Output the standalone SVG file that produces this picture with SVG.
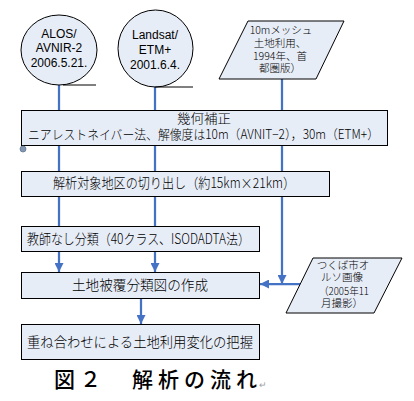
<svg xmlns="http://www.w3.org/2000/svg" width="414" height="401" viewBox="0 0 414 401">
<defs>
<marker id="ah" viewBox="0 0 10 10" refX="10" refY="5" markerWidth="4" markerHeight="4" orient="auto" markerUnits="strokeWidth">
<path d="M0,0 L10,5 L0,10 z" fill="#4472C4"/>
</marker>
<style>
.shape{fill:#E7EDF7;stroke:#000;stroke-width:1}
.con{stroke:#4472C4;stroke-width:2.25;fill:none}
.jp{font-family:"Noto Sans CJK JP","Liberation Sans",sans-serif;fill:#000;font-weight:300}
.en{font-family:"Liberation Sans","Noto Sans CJK JP",sans-serif;fill:#000;font-size:12px;text-anchor:middle}
.s10{font-size:10.5px;text-anchor:middle}
.s14{font-size:14px}
.s13{font-size:13px}
.cap{font-family:"Noto Sans CJK JP","Liberation Sans",sans-serif;fill:#000;font-size:21px;font-weight:500}
</style>
</defs>
<rect width="414" height="401" fill="#fff"/>
<g id="connectors">
<line class="con" x1="59" y1="85" x2="59" y2="110"/>
<line class="con" x1="155" y1="87" x2="155" y2="110"/>
<line class="con" x1="282" y1="79" x2="282" y2="110"/>
<line class="con" x1="59" y1="145" x2="59" y2="171"/>
<line class="con" x1="155" y1="145" x2="155" y2="171"/>
<line class="con" x1="282" y1="145" x2="282" y2="171"/>
<line class="con" x1="59" y1="196" x2="59" y2="226"/>
<line class="con" x1="155" y1="196" x2="155" y2="226"/>
<line class="con" x1="59" y1="252" x2="59" y2="272" marker-end="url(#ah)"/>
<line class="con" x1="155" y1="252" x2="155" y2="272" marker-end="url(#ah)"/>
<line class="con" x1="282" y1="196" x2="282" y2="284" marker-end="url(#ah)"/>
<line class="con" x1="301" y1="284" x2="260" y2="284" marker-end="url(#ah)"/>
<line class="con" x1="141" y1="299" x2="141" y2="324" marker-end="url(#ah)"/>
</g>
<g id="alos">
<ellipse class="shape" cx="59" cy="50" rx="38" ry="35"/>
<line x1="63" y1="85" x2="96" y2="85" stroke="#000" stroke-width="1"/>
<text class="en" x="59" y="38">ALOS/</text>
<text class="en" x="59" y="52">AVNIR-2</text>
<text class="en" x="59" y="67">2006.5.21.</text>
</g>
<g id="landsat">
<ellipse class="shape" cx="155.5" cy="48.5" rx="37.5" ry="38.5"/>
<line x1="155" y1="87" x2="193" y2="87" stroke="#000" stroke-width="1"/>
<text class="en" x="155" y="39">Landsat/</text>
<text class="en" x="155" y="54">ETM+</text>
<text class="en" x="155" y="69">2001.6.4.</text>
</g>
<g id="landuse">
<polygon class="shape" points="248,21 344,21 316,79 219,79"/>
<text class="jp s10" x="281" y="34">10mメッシュ</text>
<text class="jp s10" x="280" y="47">土地利用、</text>
<text class="jp s10" x="280" y="60">1994年、首</text>
<text class="jp s10" x="280" y="72">都圏版）</text>
</g>
<g id="geocorr">
<rect class="shape" x="21.5" y="110.5" width="366" height="35"/>
<text class="jp s13" x="204" y="123" text-anchor="middle" textLength="54" lengthAdjust="spacingAndGlyphs">幾何補正</text>
<text class="jp s13" x="28" y="139" textLength="351" lengthAdjust="spacingAndGlyphs">ニアレストネイバー法、解像度は10m（AVNIT−2），30m（ETM+）</text>
<circle cx="23" cy="149" r="3" fill="#8496B0" stroke="#5F7595" stroke-width="0.75"/>
</g>
<g id="clip">
<rect class="shape" x="21.5" y="171.5" width="308" height="25"/>
<text class="jp s14" x="53" y="188" textLength="242" lengthAdjust="spacingAndGlyphs">解析対象地区の切り出し（約15km×21km）</text>
</g>
<g id="classify">
<rect class="shape" x="21.5" y="226.5" width="238" height="25"/>
<text class="jp s14" x="27" y="244" textLength="223" lengthAdjust="spacingAndGlyphs">教師なし分類（40クラス、ISODADTA法）</text>
</g>
<g id="ortho">
<polygon class="shape" points="313,258 402,258 374,313 286,313"/>
<text class="jp s10" x="343" y="269">つくば市オ</text>
<text class="jp s10" x="342" y="281">ルソ画像</text>
<text class="jp s10" x="344" y="295" textLength="50" lengthAdjust="spacingAndGlyphs">（2005年11</text>
<text class="jp s10" x="342" y="307">月撮影）</text>
</g>
<g id="landcover">
<rect class="shape" x="21.5" y="272.5" width="238" height="26"/>
<text class="jp s14" x="72" y="290" textLength="136" lengthAdjust="spacingAndGlyphs">土地被覆分類図の作成</text>
</g>
<g id="change">
<rect class="shape" x="21.5" y="324.5" width="238" height="35"/>
<text class="jp s14" x="27" y="347" textLength="226" lengthAdjust="spacingAndGlyphs">重ね合わせによる土地利用変化の把握</text>
</g>
<g id="caption">
<text class="cap" x="54 80 106 132 158 184 210 236" y="387">図２　解析の流れ</text>
<text x="259" y="388" font-family="Liberation Sans, sans-serif" font-size="9" fill="#A0A0A0">↵</text>
</g>
</svg>
